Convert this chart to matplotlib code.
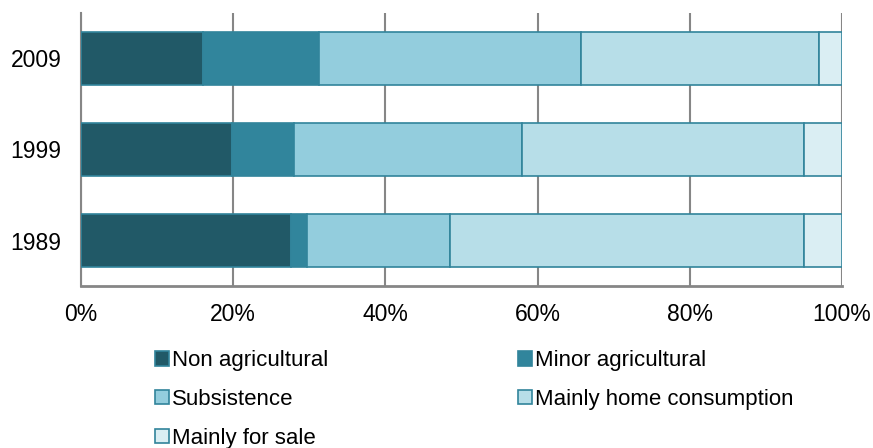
import numpy as np
import matplotlib.pyplot as plt
from matplotlib.patches import Patch

plt.rcParams['font.family'] = ['Liberation Sans', 'DejaVu Sans']

years = ['1989', '1999', '2009']
categories = ['Non agricultural', 'Minor agricultural', 'Subsistence',
              'Mainly home consumption', 'Mainly for sale']
# share of households (%) per category, ordered as years
non_agricultural = [27.6, 19.8, 16.0]
minor_agricultural = [2.1, 8.2, 15.3]
subsistence = [18.8, 30.0, 34.4]
home_consumption = [46.5, 37.0, 31.3]
for_sale = [5.0, 5.0, 3.0]

colors = ['#215967', '#31859C', '#93CDDD', '#B7DEE8', '#DAEEF3']
edge = '#31849B'
grid_col = '#868686'

fig = plt.figure(figsize=(8.73, 4.48), dpi=100)
ax = fig.add_axes([0.0928, 0.3616, 0.8717, 0.6094])

series = [non_agricultural, minor_agricultural, subsistence, home_consumption, for_sale]
y = np.arange(len(years))
left = np.zeros(len(years))
for vals, col in zip(series, colors):
    vals = np.array(vals)
    ax.barh(y, vals, left=left, height=0.58, color=col, edgecolor=edge,
            linewidth=1.2, zorder=3)
    left += vals

ax.set_xlim(0, 100)
ax.set_ylim(-0.5, 2.5)
ax.set_xticks(np.arange(0, 101, 20))
ax.set_xticklabels([f'{v}%' for v in range(0, 101, 20)])
ax.set_yticks(y)
ax.set_yticklabels(years)
ax.tick_params(axis='both', length=0, labelsize=16.5, colors='black')
ax.tick_params(axis='x', pad=12)
ax.tick_params(axis='y', pad=14)
ax.xaxis.grid(True, color=grid_col, linewidth=1.5, zorder=0)
for s in ['top', 'right']:
    ax.spines[s].set_visible(False)
ax.spines['left'].set_color(grid_col)
ax.spines['left'].set_linewidth(1.5)
ax.spines['bottom'].set_color(grid_col)
ax.spines['bottom'].set_linewidth(2)

handles = [Patch(facecolor=c, edgecolor=edge, linewidth=1.2, label=l)
           for c, l in zip(colors, categories)]
order = [0, 2, 4, 1, 3]
fig.legend([handles[i] for i in order], [categories[i] for i in order],
           ncol=2, loc='upper left', bbox_to_anchor=(0.178, 0.218),
           frameon=False, fontsize=16, handlelength=0.6, handleheight=0.6,
           handletextpad=0.15, columnspacing=8.55, labelspacing=0.8,
           borderaxespad=0, borderpad=0)

fig.savefig('out.png', dpi=100)
